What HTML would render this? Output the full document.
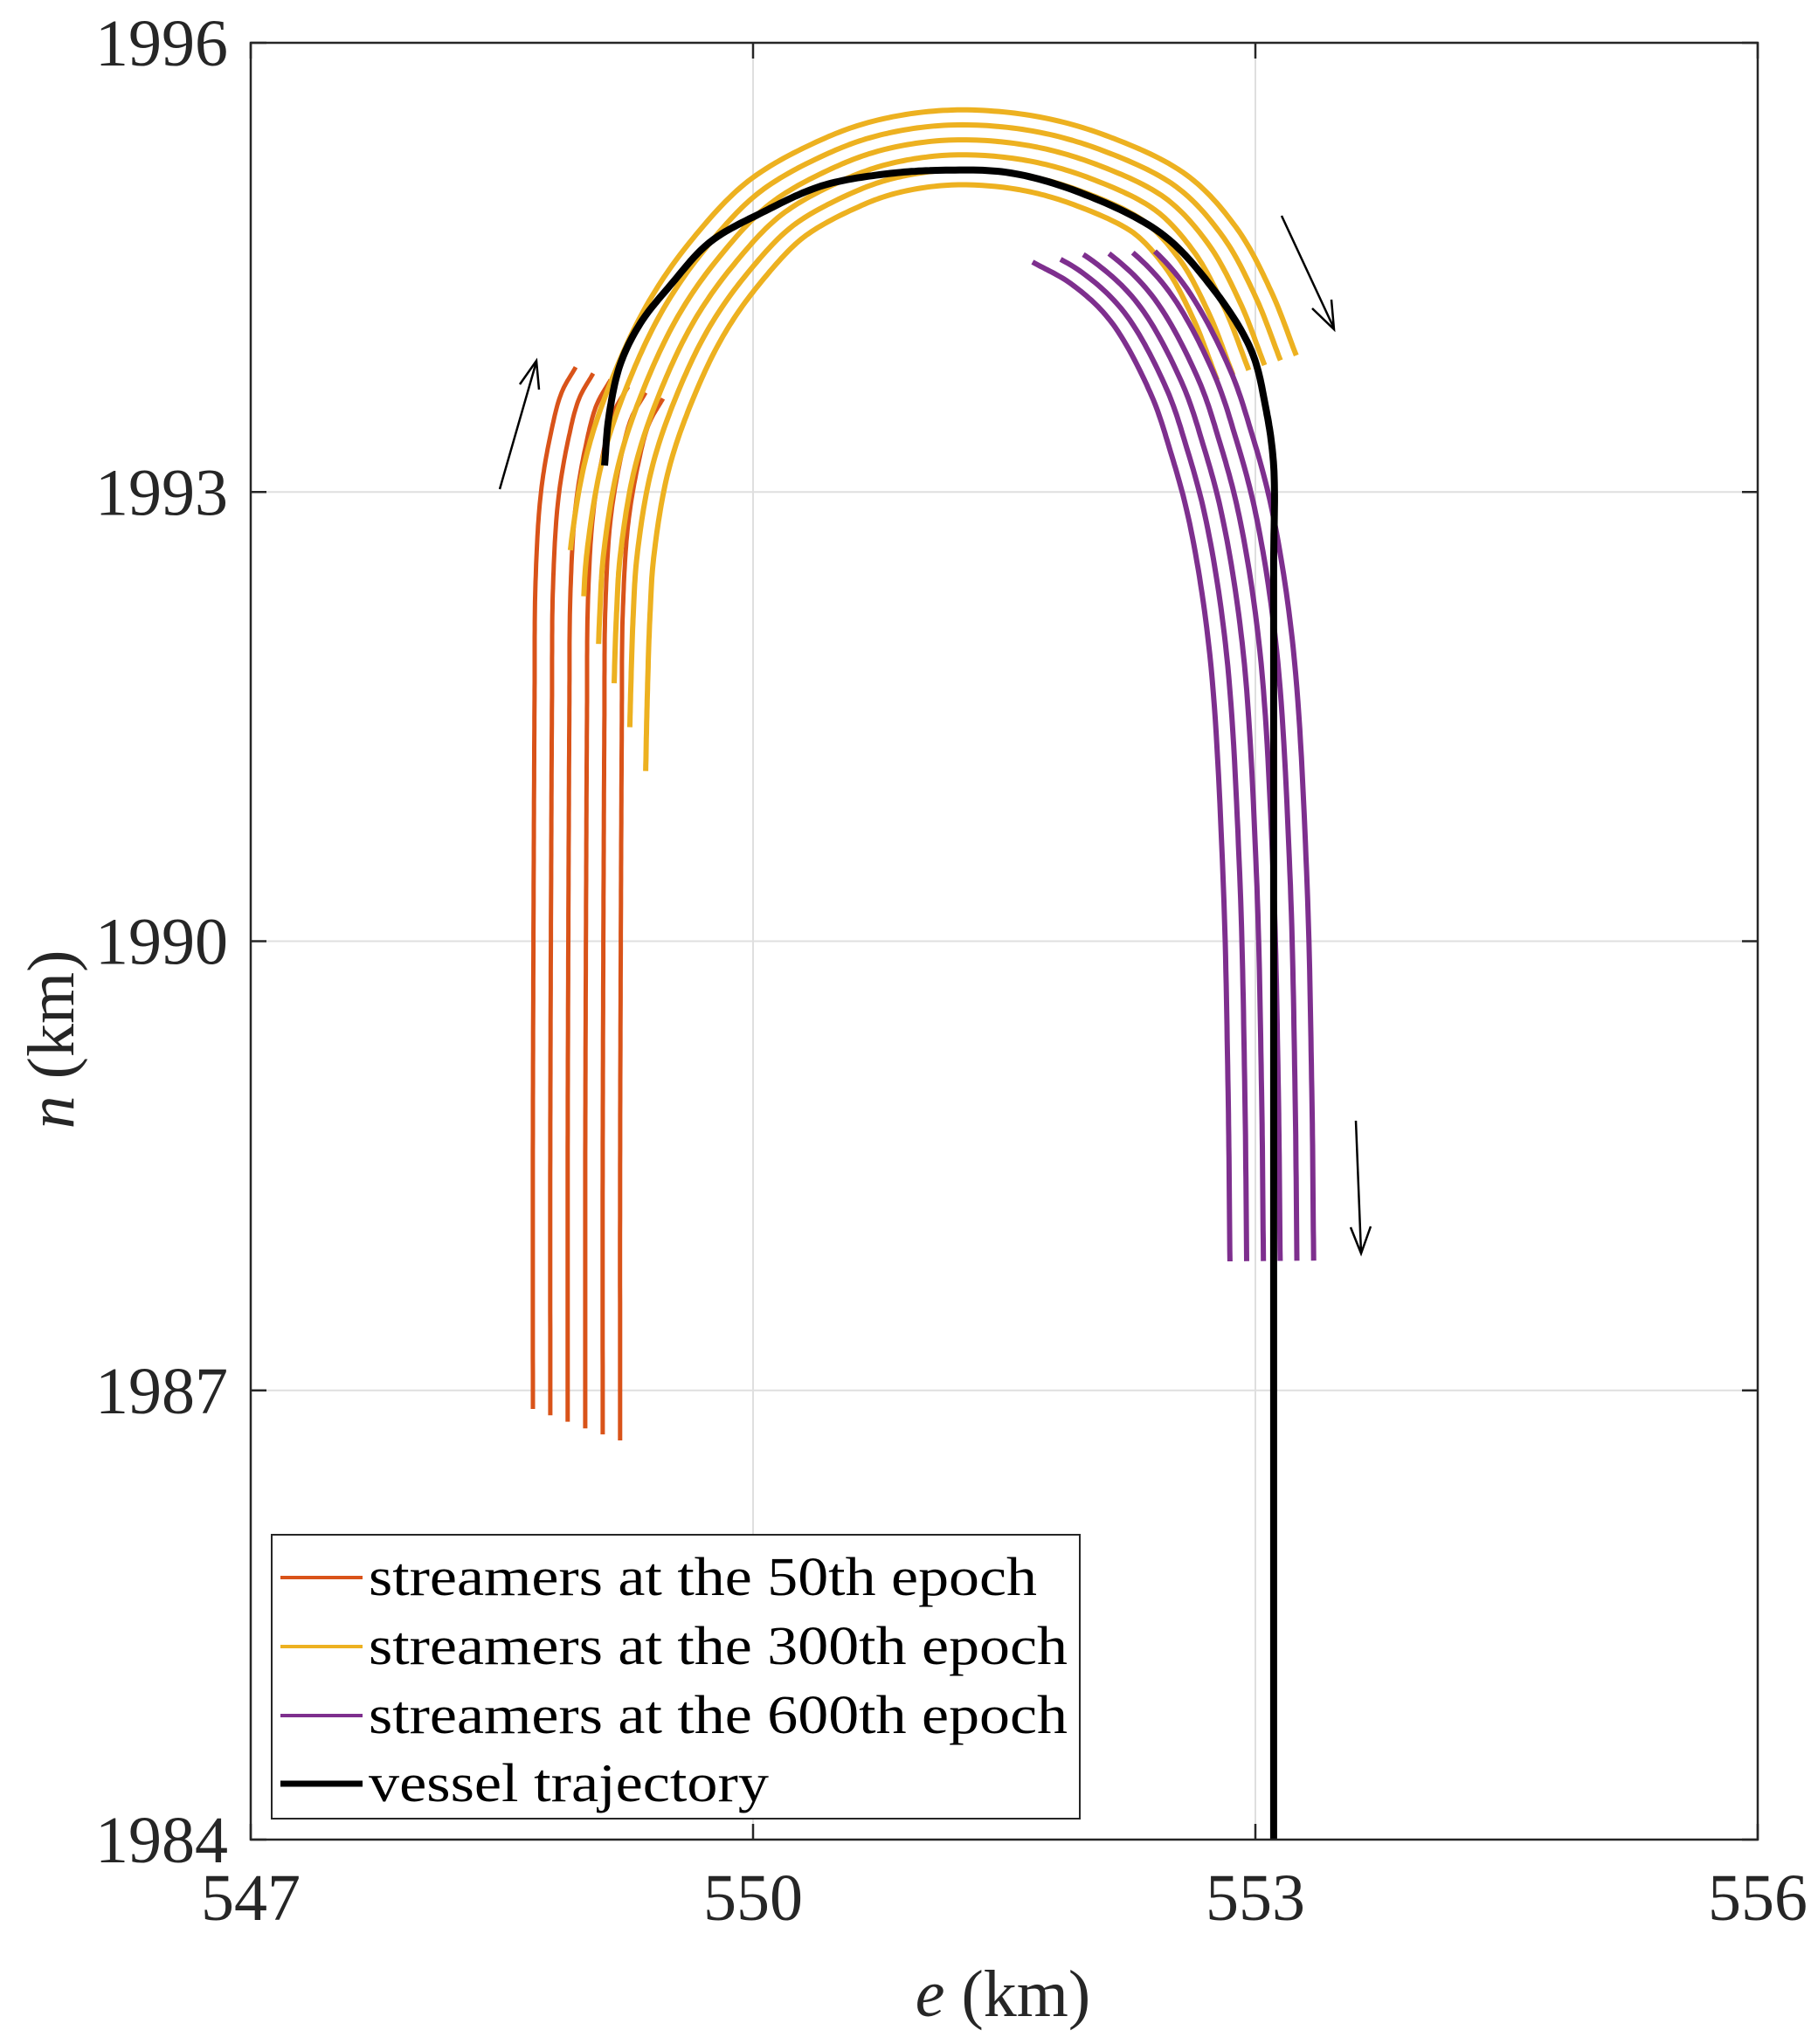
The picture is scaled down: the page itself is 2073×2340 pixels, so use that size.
<!DOCTYPE html>
<html><head><meta charset="utf-8">
<style>
html,body{margin:0;padding:0;background:#fff;}
svg{display:block;font-family:"Liberation Serif","Times New Roman",serif;}
</style></head>
<body>
<svg id="chart" width="2073" height="2340" viewBox="0 0 2073 2340" xmlns="http://www.w3.org/2000/svg">
<rect x="0" y="0" width="2073" height="2340" fill="#fff"/>
<g id="grid"></g>
<g id="series"></g>
<g id="axes"></g>
<g id="annot">
  <g stroke="#000" stroke-width="2.5" fill="none">
    <line x1="572" y1="560" x2="614" y2="414"/>
    <polyline points="595,440 614,413 617,446"/>
  </g>
  <g stroke="#000" stroke-width="2.5" fill="none">
    <line x1="1467" y1="247" x2="1527" y2="376"/>
    <polyline points="1502,353 1527,377 1524,343"/>
  </g>
  <g stroke="#000" stroke-width="2.5" fill="none">
    <line x1="1552" y1="1283" x2="1558" y2="1434"/>
    <polyline points="1546,1405 1558,1435 1569,1404"/>
  </g>
</g>
<g id="legend">
  <rect x="311" y="1757" width="925" height="325" fill="#fff" stroke="#262626" stroke-width="2"/>
  <g>
    <line x1="321" y1="1806" x2="415" y2="1806" stroke="#D95319" stroke-width="4"/>
    <text x="422" y="1826" font-size="62" fill="#000" textLength="765" lengthAdjust="spacingAndGlyphs">streamers at the 50th epoch</text>
  </g>
  <g>
    <line x1="321" y1="1885" x2="415" y2="1885" stroke="#EDB120" stroke-width="4"/>
    <text x="422" y="1905" font-size="62" fill="#000" textLength="800" lengthAdjust="spacingAndGlyphs">streamers at the 300th epoch</text>
  </g>
  <g>
    <line x1="321" y1="1964" x2="415" y2="1964" stroke="#7E2F8E" stroke-width="4"/>
    <text x="422" y="1984" font-size="62" fill="#000" textLength="800" lengthAdjust="spacingAndGlyphs">streamers at the 600th epoch</text>
  </g>
  <g>
    <line x1="321" y1="2042" x2="415" y2="2042" stroke="#000" stroke-width="7"/>
    <text x="422" y="2062" font-size="62" fill="#000" textLength="458" lengthAdjust="spacingAndGlyphs">vessel trajectory</text>
  </g>
</g>
</svg>
<script>
// ---- data ----
const xTicks = [547, 550, 553, 556];
const yTicks = [1984, 1987, 1990, 1993, 1996];
// 50th epoch streamers: base streamer and per-streamer shifts
const orangeE = [548.685, 548.685, 548.690, 548.695, 548.701, 548.732, 548.789, 548.857, 548.941];
const orangeN = [1986.876, 1988.716, 1990.463, 1991.627, 1992.402, 1992.984, 1993.374, 1993.665, 1993.834];
const orangeShiftE = [0, 0.104, 0.208, 0.313, 0.417, 0.521];
const orangeShiftN = [0, -0.042, -0.085, -0.13, -0.17, -0.21];
// 300th epoch streamers: outer streamer path, lateral offsets (km), start (left-end) northing
const yellowE = [548.857, 548.868, 548.885, 548.909, 548.998, 549.139, 549.363, 549.624, 549.973, 550.406, 550.756, 551.189, 551.684, 552.133, 552.587, 552.884, 553.093, 553.244];
const yellowN = [1991.036, 1991.619, 1992.202, 1992.611, 1993.212, 1993.702, 1994.244, 1994.670, 1995.078, 1995.352, 1995.487, 1995.551, 1995.510, 1995.370, 1995.119, 1994.769, 1994.343, 1993.912];
const yellowOffset = [0, 0.1, 0.2, 0.3, 0.4, 0.5];
const yellowStartN = [1992.590, 1992.279, 1991.977, 1991.697, 1991.406, 1991.115];
// 600th epoch streamers: inner streamer path, lateral offsets, start easting
const purpleE = [551.669, 551.900, 552.133, 552.373, 552.493, 552.608, 552.728, 552.806, 552.837, 552.848];
const purpleN = [1994.536, 1994.390, 1994.145, 1993.661, 1993.270, 1992.786, 1991.911, 1990.452, 1988.994, 1987.862];
const purpleOffset = [0, 0.1, 0.2, 0.3, 0.4, 0.5];
const purpleStartE = [551.669, 551.825, 551.971, 552.117, 552.264, 552.399];
// vessel trajectory
const vesselE = [549.113, 549.139, 549.207, 549.327, 549.504, 549.744, 550.057, 550.406, 550.756, 551.100, 551.538, 551.987, 552.436, 552.733, 552.973, 553.062, 553.109, 553.109, 553.109];
const vesselN = [1993.177, 1993.503, 1993.853, 1994.127, 1994.378, 1994.670, 1994.868, 1995.043, 1995.119, 1995.148, 1995.131, 1994.985, 1994.728, 1994.378, 1993.952, 1993.562, 1993.177, 1992.500, 1984.0];

// ---- axes ----
const L = 287, R = 2012, T = 49, B = 2106;
const X0 = 547, X1 = 556, Y0 = 1984, Y1 = 1996;
function sx(e){ return L + (e - X0) / (X1 - X0) * (R - L); }
function sy(n){ return B - (n - Y0) / (Y1 - Y0) * (B - T); }
const NS = 'http://www.w3.org/2000/svg';
function mk(tag, attrs, parent){
  const el = document.createElementNS(NS, tag);
  for (const k in attrs) el.setAttribute(k, attrs[k]);
  parent.appendChild(el);
  return el;
}
const grid = document.getElementById('grid');
const axes = document.getElementById('axes');
const series = document.getElementById('series');

xTicks.forEach(v => {
  const g = mk('line', {x1:sx(v), x2:sx(v), y1:T, y2:B, stroke:'#dfdfdf', 'stroke-width':2}, grid);
  
  
});
yTicks.forEach(v => {
  const g = mk('line', {x1:L, x2:R, y1:sy(v), y2:sy(v), stroke:'#dfdfdf', 'stroke-width':2}, grid);
  
  
});

// centripetal Catmull-Rom densification of read points (rendering only)
function smooth(pts){
  const out = [];
  const n = pts.length;
  for (let i = 0; i < n - 1; i++){
    const P1 = pts[i], P2 = pts[i+1];
    const P0 = i > 0 ? pts[i-1] : [2*P1[0]-P2[0], 2*P1[1]-P2[1]];
    const P3 = i + 2 < n ? pts[i+2] : [2*P2[0]-P1[0], 2*P2[1]-P1[1]];
    const tj = (a, b) => Math.pow(Math.hypot(b[0]-a[0], b[1]-a[1]), 0.5) || 1e-6;
    const t0 = 0, t1 = t0 + tj(P0,P1), t2 = t1 + tj(P1,P2), t3 = t2 + tj(P2,P3);
    for (let s = 0; s < 16; s++){
      const t = t1 + (t2 - t1) * s / 16;
      const lerp = (A, B, ta, tb) => [((tb-t)*A[0] + (t-ta)*B[0])/(tb-ta), ((tb-t)*A[1] + (t-ta)*B[1])/(tb-ta)];
      const A1 = lerp(P0,P1,t0,t1), A2 = lerp(P1,P2,t1,t2), A3 = lerp(P2,P3,t2,t3);
      const B1 = lerp(A1,A2,t0,t2), B2 = lerp(A2,A3,t1,t3);
      out.push(lerp(B1,B2,t1,t2));
    }
  }
  out.push(pts[n-1]);
  return out;
}
function offsetPath(pts, d, sign){
  return pts.map((p, i) => {
    const a = pts[Math.max(0, i-1)], b = pts[Math.min(pts.length-1, i+1)];
    let te = b[0]-a[0], tn = b[1]-a[1];
    const len = Math.hypot(te, tn) || 1; te /= len; tn /= len;
    const ne = sign * tn, nn = -sign * te;
    return [p[0] + ne*d, p[1] + nn*d];
  });
}
function drawPath(pts, color, width, name){
  const d = pts.map((p, i) => (i ? 'L' : 'M') + sx(p[0]).toFixed(1) + ',' + sy(p[1]).toFixed(1)).join(' ');
  const el = mk('path', {d:d, fill:'none', stroke:color, 'stroke-width':width, 'stroke-linejoin':'round'}, series);
  
  
}

// 50th epoch
const orangeBase = smooth(orangeE.map((e, i) => [e, orangeN[i]]));
orangeShiftE.forEach((de, k) => {
  const pts = orangeBase.map(p => [p[0] + de, p[1] + orangeShiftN[k]]);
  drawPath(pts, '#D95319', 5, 'streamer-50th-epoch');
});
// 300th epoch
const yellowBase = smooth(yellowE.map((e, i) => [e, yellowN[i]]));
yellowOffset.forEach((d, k) => {
  let pts = offsetPath(yellowBase, d, 1);
  const idx = pts.findIndex(p => p[1] >= yellowStartN[k]);
  pts = pts.slice(Math.max(0, idx));
  drawPath(pts, '#EDB120', 6, 'streamer-300th-epoch');
});
// 600th epoch
const purpleBase = smooth(purpleE.map((e, i) => [e, purpleN[i]]));
purpleOffset.forEach((d, k) => {
  let pts = offsetPath(purpleBase, d, -1);
  const idx = pts.findIndex(p => p[0] >= purpleStartE[k]);
  pts = pts.slice(Math.max(0, idx));
  drawPath(pts, '#7E2F8E', 6, 'streamer-600th-epoch');
});
// vessel
const vPts = smooth(vesselE.slice(0, -1).map((e, i) => [e, vesselN[i]]));
vPts.push([vesselE[vesselE.length-1], vesselN[vesselN.length-1]]);
drawPath(vPts, '#000', 8, 'vessel-trajectory');

// axes box and ticks
const box = mk('rect', {x:L, y:T, width:R-L, height:B-T, fill:'none', stroke:'#262626', 'stroke-width':2.5}, axes);


xTicks.forEach(v => {
  mk('line', {x1:sx(v), x2:sx(v), y1:B, y2:B-18, stroke:'#262626', 'stroke-width':2.5}, axes);
  mk('line', {x1:sx(v), x2:sx(v), y1:T, y2:T+18, stroke:'#262626', 'stroke-width':2.5}, axes);
  const t = mk('text', {x:sx(v), y:B+92, 'font-size':76, 'text-anchor':'middle', fill:'#262626'}, axes);
  t.textContent = v;
  
  
});
yTicks.forEach(v => {
  mk('line', {x1:L, x2:L+18, y1:sy(v), y2:sy(v), stroke:'#262626', 'stroke-width':2.5}, axes);
  mk('line', {x1:R, x2:R-18, y1:sy(v), y2:sy(v), stroke:'#262626', 'stroke-width':2.5}, axes);
  const t = mk('text', {x:L-26, y:sy(v)+26, 'font-size':76, 'text-anchor':'end', fill:'#262626'}, axes);
  t.textContent = v;
  
  
});
const xt = mk('text', {x:1148, y:2308, 'font-size':76, 'text-anchor':'middle', fill:'#262626'}, axes);
xt.innerHTML = '<tspan font-style="italic">e</tspan> (km)';


const yt = mk('text', {x:0, y:0, 'font-size':76, 'text-anchor':'middle', fill:'#262626', transform:'translate(84,1190) rotate(-90)'}, axes);
yt.innerHTML = '<tspan font-style="italic">n</tspan> (km)';


</script>
</body></html>
